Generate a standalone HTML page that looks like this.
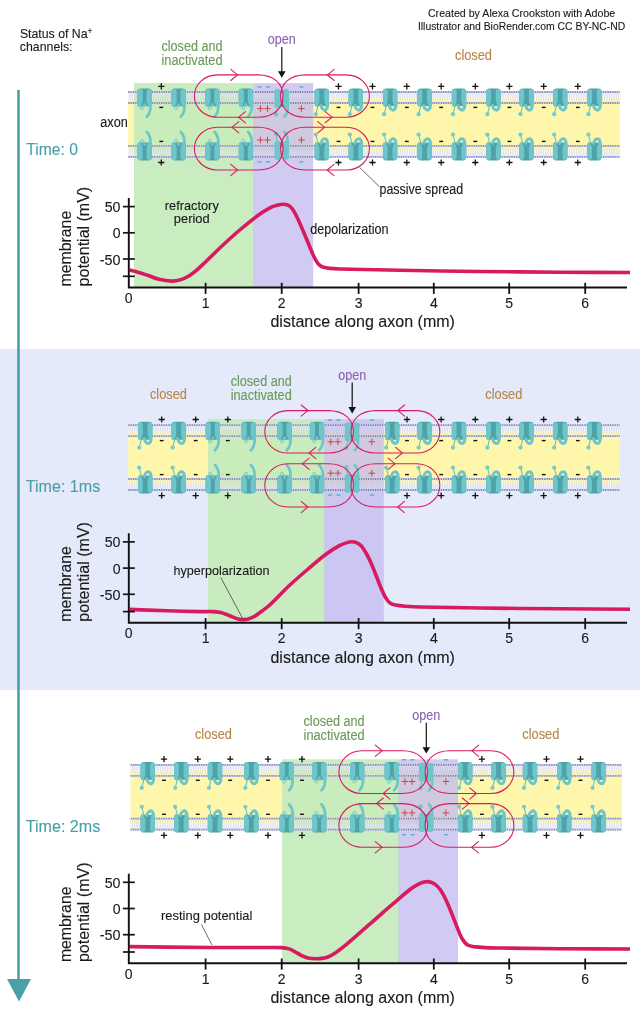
<!DOCTYPE html>
<html lang="en">
<head>
<meta charset="utf-8">
<title>Action potential propagation along an axon</title>
<style>
html,body{margin:0;padding:0;background:#fff;}
body{width:640px;height:1024px;overflow:hidden;}
svg{display:block;font-family:"Liberation Sans", sans-serif;}
text{stroke-width:0.12px;stroke-linejoin:round;}
</style>
</head>
<body>
<svg width="640" height="1024" viewBox="0 0 640 1024">
<defs>
<g id="ci"><rect x="-7.2" y="-36.0" width="14.4" height="17.6" rx="3.4" fill="#4ea3a9"/><rect x="-7.2" y="-35.5" width="5.3" height="18" rx="2.5" fill="#6ec6ca"/><rect x="1.9" y="-35.5" width="5.3" height="18" rx="2.5" fill="#6ec6ca"/><path d="M-2,-22.5 L2,-22.5 L3.6,-19.0 L2.2,-18.3 L-2.2,-18.3 L-3.6,-19.0 Z" fill="#4ea3a9"/><path d="M5.9,-20 C6.3,-14.5 5,-10.5 2.2,-7.6" fill="none" stroke="#6ec6ca" stroke-width="2.7" stroke-linecap="round"/><circle cx="0" cy="-19.6" r="1.8" fill="#6ec6ca" stroke="#58b0b5" stroke-width="0.4"/><circle cx="-2.7" cy="-16.4" r="1.5" fill="none" stroke="#6ec6ca" stroke-width="0.9"/></g>
<g id="cc"><rect x="-7.2" y="-36.0" width="14.4" height="17.6" rx="3.4" fill="#4ea3a9"/><rect x="-7.2" y="-35.5" width="4.8" height="18" rx="2.4" fill="#6ec6ca"/><rect x="2.4" y="-35.5" width="4.8" height="18" rx="2.4" fill="#6ec6ca"/><path d="M-2.6,-22.5 L2.6,-22.5 L3.9,-19.0 L2.2,-18.3 L-2.2,-18.3 L-3.9,-19.0 Z" fill="#4ea3a9"/><path d="M5.7,-21 C6.4,-14.9 3.6,-13.3 1.3,-15.0 C0.1,-15.9 -0.6,-17.4 -0.9,-19.0" fill="none" stroke="#6ec6ca" stroke-width="3.0" stroke-linecap="round"/><path d="M-3.9,-18.2 L-5.9,-10.6" fill="none" stroke="#58b0b5" stroke-width="0.9"/><circle cx="-6.0" cy="-10.2" r="2.1" fill="#74cbd0"/></g>
<g id="co"><rect x="-1.6" y="-23" width="3.2" height="5.5" fill="#4ea3a9"/><rect x="-7.4" y="-35.3" width="6.5" height="18.8" rx="2.7" fill="#6ec6ca"/><rect x="0.8" y="-35.3" width="6.4" height="18.8" rx="2.7" fill="#6ec6ca"/><path d="M5.8,-19 C6.2,-13.5 5.2,-10 2.6,-7.6" fill="none" stroke="#6ec6ca" stroke-width="2.7" stroke-linecap="round"/><path d="M-4.6,-17 L-5.7,-10" fill="none" stroke="#58b0b5" stroke-width="0.8"/><circle cx="-5.7" cy="-9.7" r="2.1" fill="#6ec6ca"/></g>
</defs>
<rect x="0" y="0" width="640" height="1024" fill="#ffffff"/>
<rect x="0" y="349" width="640" height="341" fill="#e5eafa"/>
<rect x="17.2" y="90" width="2.6" height="892" fill="#4a9fa8"/>
<path d="M7,979 L31,979 L19,1001.5 Z" fill="#4a9fa8"/>
<rect x="128.2" y="97.5" width="491.6" height="53.8" fill="#fdf6ab"/>
<rect x="134" y="83.1" width="120.2" height="204.4" fill="#c6ebbc" fill-opacity="0.94"/>
<rect x="253.4" y="83.1" width="59.8" height="204.4" fill="#c3bbef" fill-opacity="0.76"/>
<rect x="128.2" y="92.0" width="5.8" height="5.5" fill="#d3d9f1" fill-opacity="0.75"/>
<rect x="128.2" y="97.5" width="5.8" height="5.5" fill="#cfcfc4" fill-opacity="0.34"/>
<path d="M128.2,97.5 H134" stroke="#ffffff" stroke-opacity="0.62" stroke-width="11.0" stroke-dasharray="1.15 1.2" stroke-dashoffset="0.00" fill="none"/>
<path d="M128.2,92.0 H134" stroke="#cfd3e6" stroke-width="1.8" fill="none"/>
<path d="M128.2,92.0 H134" stroke="#878db8" stroke-width="1.8" stroke-dasharray="1.25 1.1" stroke-dashoffset="0.00" fill="none"/>
<path d="M128.2,103.0 H134" stroke="#cfd3e6" stroke-width="1.8" fill="none"/>
<path d="M128.2,103.0 H134" stroke="#878db8" stroke-width="1.8" stroke-dasharray="1.25 1.1" stroke-dashoffset="0.00" fill="none"/>
<rect x="134" y="92.0" width="119.4" height="5.5" fill="#d3d9f1" fill-opacity="0.5"/>
<rect x="134" y="97.5" width="119.4" height="5.5" fill="#cfcfc4" fill-opacity="0.3"/>
<path d="M134,97.5 H253.4" stroke="#ffffff" stroke-opacity="0.25" stroke-width="11.0" stroke-dasharray="1.15 1.2" stroke-dashoffset="1.10" fill="none"/>
<path d="M134,92.0 H253.4" stroke="#cfd3e6" stroke-width="1.8" fill="none"/>
<path d="M134,92.0 H253.4" stroke="#878db8" stroke-width="1.8" stroke-dasharray="1.25 1.1" stroke-dashoffset="1.10" fill="none"/>
<path d="M134,103.0 H253.4" stroke="#cfd3e6" stroke-width="1.8" fill="none"/>
<path d="M134,103.0 H253.4" stroke="#878db8" stroke-width="1.8" stroke-dasharray="1.25 1.1" stroke-dashoffset="1.10" fill="none"/>
<rect x="253.4" y="92.0" width="59.8" height="5.5" fill="#d3d9f1" fill-opacity="0.25"/>
<rect x="253.4" y="97.5" width="59.8" height="5.5" fill="#cfcfc4" fill-opacity="0.2"/>
<path d="M253.4,97.5 H313.2" stroke="#ffffff" stroke-opacity="0.14" stroke-width="11.0" stroke-dasharray="1.15 1.2" stroke-dashoffset="0.65" fill="none"/>
<path d="M253.4,92.0 H313.2" stroke="#cfd3e6" stroke-width="1.8" fill="none"/>
<path d="M253.4,92.0 H313.2" stroke="#7c7fa6" stroke-width="1.8" stroke-dasharray="1.25 1.1" stroke-dashoffset="0.65" fill="none"/>
<path d="M253.4,103.0 H313.2" stroke="#cfd3e6" stroke-width="1.8" fill="none"/>
<path d="M253.4,103.0 H313.2" stroke="#7c7fa6" stroke-width="1.8" stroke-dasharray="1.25 1.1" stroke-dashoffset="0.65" fill="none"/>
<rect x="313.2" y="92.0" width="306.6" height="5.5" fill="#d3d9f1" fill-opacity="0.75"/>
<rect x="313.2" y="97.5" width="306.6" height="5.5" fill="#cfcfc4" fill-opacity="0.34"/>
<path d="M313.2,97.5 H619.8" stroke="#ffffff" stroke-opacity="0.62" stroke-width="11.0" stroke-dasharray="1.15 1.2" stroke-dashoffset="1.70" fill="none"/>
<path d="M313.2,92.0 H619.8" stroke="#cfd3e6" stroke-width="1.8" fill="none"/>
<path d="M313.2,92.0 H619.8" stroke="#878db8" stroke-width="1.8" stroke-dasharray="1.25 1.1" stroke-dashoffset="1.70" fill="none"/>
<path d="M313.2,103.0 H619.8" stroke="#cfd3e6" stroke-width="1.8" fill="none"/>
<path d="M313.2,103.0 H619.8" stroke="#878db8" stroke-width="1.8" stroke-dasharray="1.25 1.1" stroke-dashoffset="1.70" fill="none"/>
<rect x="128.2" y="151.3" width="5.8" height="5.5" fill="#d3d9f1" fill-opacity="0.75"/>
<rect x="128.2" y="145.8" width="5.8" height="5.5" fill="#cfcfc4" fill-opacity="0.34"/>
<path d="M128.2,151.3 H134" stroke="#ffffff" stroke-opacity="0.62" stroke-width="11.0" stroke-dasharray="1.15 1.2" stroke-dashoffset="0.00" fill="none"/>
<path d="M128.2,156.8 H134" stroke="#cfd3e6" stroke-width="1.8" fill="none"/>
<path d="M128.2,156.8 H134" stroke="#878db8" stroke-width="1.8" stroke-dasharray="1.25 1.1" stroke-dashoffset="0.00" fill="none"/>
<path d="M128.2,145.8 H134" stroke="#cfd3e6" stroke-width="1.8" fill="none"/>
<path d="M128.2,145.8 H134" stroke="#878db8" stroke-width="1.8" stroke-dasharray="1.25 1.1" stroke-dashoffset="0.00" fill="none"/>
<rect x="134" y="151.3" width="119.4" height="5.5" fill="#d3d9f1" fill-opacity="0.5"/>
<rect x="134" y="145.8" width="119.4" height="5.5" fill="#cfcfc4" fill-opacity="0.3"/>
<path d="M134,151.3 H253.4" stroke="#ffffff" stroke-opacity="0.25" stroke-width="11.0" stroke-dasharray="1.15 1.2" stroke-dashoffset="1.10" fill="none"/>
<path d="M134,156.8 H253.4" stroke="#cfd3e6" stroke-width="1.8" fill="none"/>
<path d="M134,156.8 H253.4" stroke="#878db8" stroke-width="1.8" stroke-dasharray="1.25 1.1" stroke-dashoffset="1.10" fill="none"/>
<path d="M134,145.8 H253.4" stroke="#cfd3e6" stroke-width="1.8" fill="none"/>
<path d="M134,145.8 H253.4" stroke="#878db8" stroke-width="1.8" stroke-dasharray="1.25 1.1" stroke-dashoffset="1.10" fill="none"/>
<rect x="253.4" y="151.3" width="59.8" height="5.5" fill="#d3d9f1" fill-opacity="0.25"/>
<rect x="253.4" y="145.8" width="59.8" height="5.5" fill="#cfcfc4" fill-opacity="0.2"/>
<path d="M253.4,151.3 H313.2" stroke="#ffffff" stroke-opacity="0.14" stroke-width="11.0" stroke-dasharray="1.15 1.2" stroke-dashoffset="0.65" fill="none"/>
<path d="M253.4,156.8 H313.2" stroke="#cfd3e6" stroke-width="1.8" fill="none"/>
<path d="M253.4,156.8 H313.2" stroke="#7c7fa6" stroke-width="1.8" stroke-dasharray="1.25 1.1" stroke-dashoffset="0.65" fill="none"/>
<path d="M253.4,145.8 H313.2" stroke="#cfd3e6" stroke-width="1.8" fill="none"/>
<path d="M253.4,145.8 H313.2" stroke="#7c7fa6" stroke-width="1.8" stroke-dasharray="1.25 1.1" stroke-dashoffset="0.65" fill="none"/>
<rect x="313.2" y="151.3" width="306.6" height="5.5" fill="#d3d9f1" fill-opacity="0.75"/>
<rect x="313.2" y="145.8" width="306.6" height="5.5" fill="#cfcfc4" fill-opacity="0.34"/>
<path d="M313.2,151.3 H619.8" stroke="#ffffff" stroke-opacity="0.62" stroke-width="11.0" stroke-dasharray="1.15 1.2" stroke-dashoffset="1.70" fill="none"/>
<path d="M313.2,156.8 H619.8" stroke="#cfd3e6" stroke-width="1.8" fill="none"/>
<path d="M313.2,156.8 H619.8" stroke="#878db8" stroke-width="1.8" stroke-dasharray="1.25 1.1" stroke-dashoffset="1.70" fill="none"/>
<path d="M313.2,145.8 H619.8" stroke="#cfd3e6" stroke-width="1.8" fill="none"/>
<path d="M313.2,145.8 H619.8" stroke="#878db8" stroke-width="1.8" stroke-dasharray="1.25 1.1" stroke-dashoffset="1.70" fill="none"/>
<use href="#cc" x="321.8" y="124.4"/>
<use href="#cc" transform="translate(321.8,124.4) scale(1,-1)"/>
<use href="#cc" x="355.8" y="124.4"/>
<use href="#cc" transform="translate(355.8,124.4) scale(1,-1)"/>
<use href="#cc" x="390.1" y="124.4"/>
<use href="#cc" transform="translate(390.1,124.4) scale(1,-1)"/>
<use href="#cc" x="424.6" y="124.4"/>
<use href="#cc" transform="translate(424.6,124.4) scale(1,-1)"/>
<use href="#cc" x="459" y="124.4"/>
<use href="#cc" transform="translate(459,124.4) scale(1,-1)"/>
<use href="#cc" x="493.4" y="124.4"/>
<use href="#cc" transform="translate(493.4,124.4) scale(1,-1)"/>
<use href="#cc" x="526.5" y="124.4"/>
<use href="#cc" transform="translate(526.5,124.4) scale(1,-1)"/>
<use href="#cc" x="560.2" y="124.4"/>
<use href="#cc" transform="translate(560.2,124.4) scale(1,-1)"/>
<use href="#cc" x="594.4" y="124.4"/>
<use href="#cc" transform="translate(594.4,124.4) scale(1,-1)"/>
<use href="#ci" x="144.6" y="124.4"/>
<use href="#ci" transform="translate(144.6,124.4) scale(1,-1)"/>
<use href="#ci" x="178.6" y="124.4"/>
<use href="#ci" transform="translate(178.6,124.4) scale(1,-1)"/>
<use href="#ci" x="212.4" y="124.4"/>
<use href="#ci" transform="translate(212.4,124.4) scale(1,-1)"/>
<use href="#ci" x="245.9" y="124.4"/>
<use href="#ci" transform="translate(245.9,124.4) scale(1,-1)"/>
<use href="#co" x="281.8" y="124.4"/>
<use href="#co" transform="translate(281.8,124.4) scale(1,-1)"/>
<path d="M158.2,86.3 H164.4 M161.3,83.2 V89.4" stroke="#111" stroke-width="1.3" fill="none"/>
<path d="M159.4,107.4 H163.2" stroke="#111" stroke-width="1.4" fill="none"/>
<path d="M159.4,141.4 H163.2" stroke="#111" stroke-width="1.4" fill="none"/>
<path d="M158.2,162.5 H164.4 M161.3,159.4 V165.6" stroke="#111" stroke-width="1.3" fill="none"/>
<path d="M335.4,86.3 H341.6 M338.5,83.2 V89.4" stroke="#111" stroke-width="1.3" fill="none"/>
<path d="M336.6,107.4 H340.4" stroke="#111" stroke-width="1.4" fill="none"/>
<path d="M336.6,141.4 H340.4" stroke="#111" stroke-width="1.4" fill="none"/>
<path d="M335.4,162.5 H341.6 M338.5,159.4 V165.6" stroke="#111" stroke-width="1.3" fill="none"/>
<path d="M369.4,86.3 H375.6 M372.5,83.2 V89.4" stroke="#111" stroke-width="1.3" fill="none"/>
<path d="M370.6,107.4 H374.4" stroke="#111" stroke-width="1.4" fill="none"/>
<path d="M370.6,141.4 H374.4" stroke="#111" stroke-width="1.4" fill="none"/>
<path d="M369.4,162.5 H375.6 M372.5,159.4 V165.6" stroke="#111" stroke-width="1.3" fill="none"/>
<path d="M403.7,86.3 H409.9 M406.8,83.2 V89.4" stroke="#111" stroke-width="1.3" fill="none"/>
<path d="M404.9,107.4 H408.7" stroke="#111" stroke-width="1.4" fill="none"/>
<path d="M404.9,141.4 H408.7" stroke="#111" stroke-width="1.4" fill="none"/>
<path d="M403.7,162.5 H409.9 M406.8,159.4 V165.6" stroke="#111" stroke-width="1.3" fill="none"/>
<path d="M438.1,86.3 H444.3 M441.2,83.2 V89.4" stroke="#111" stroke-width="1.3" fill="none"/>
<path d="M439.3,107.4 H443.1" stroke="#111" stroke-width="1.4" fill="none"/>
<path d="M439.3,141.4 H443.1" stroke="#111" stroke-width="1.4" fill="none"/>
<path d="M438.1,162.5 H444.3 M441.2,159.4 V165.6" stroke="#111" stroke-width="1.3" fill="none"/>
<path d="M472.2,86.3 H478.4 M475.3,83.2 V89.4" stroke="#111" stroke-width="1.3" fill="none"/>
<path d="M473.4,107.4 H477.2" stroke="#111" stroke-width="1.4" fill="none"/>
<path d="M473.4,141.4 H477.2" stroke="#111" stroke-width="1.4" fill="none"/>
<path d="M472.2,162.5 H478.4 M475.3,159.4 V165.6" stroke="#111" stroke-width="1.3" fill="none"/>
<path d="M506.3,86.3 H512.5 M509.4,83.2 V89.4" stroke="#111" stroke-width="1.3" fill="none"/>
<path d="M507.5,107.4 H511.3" stroke="#111" stroke-width="1.4" fill="none"/>
<path d="M507.5,141.4 H511.3" stroke="#111" stroke-width="1.4" fill="none"/>
<path d="M506.3,162.5 H512.5 M509.4,159.4 V165.6" stroke="#111" stroke-width="1.3" fill="none"/>
<path d="M540.6,86.3 H546.8 M543.7,83.2 V89.4" stroke="#111" stroke-width="1.3" fill="none"/>
<path d="M541.8,107.4 H545.6" stroke="#111" stroke-width="1.4" fill="none"/>
<path d="M541.8,141.4 H545.6" stroke="#111" stroke-width="1.4" fill="none"/>
<path d="M540.6,162.5 H546.8 M543.7,159.4 V165.6" stroke="#111" stroke-width="1.3" fill="none"/>
<path d="M574.7,86.3 H580.9 M577.8,83.2 V89.4" stroke="#111" stroke-width="1.3" fill="none"/>
<path d="M575.9,107.4 H579.7" stroke="#111" stroke-width="1.4" fill="none"/>
<path d="M575.9,141.4 H579.7" stroke="#111" stroke-width="1.4" fill="none"/>
<path d="M574.7,162.5 H580.9 M577.8,159.4 V165.6" stroke="#111" stroke-width="1.3" fill="none"/>
<path d="M257.6,86.9 H261.6" stroke="#5cb3bd" stroke-width="1.5" fill="none"/>
<path d="M257.6,161.8 H261.6" stroke="#5cb3bd" stroke-width="1.5" fill="none"/>
<path d="M266.0,86.9 H270.0" stroke="#5cb3bd" stroke-width="1.5" fill="none"/>
<path d="M266.0,161.8 H270.0" stroke="#5cb3bd" stroke-width="1.5" fill="none"/>
<path d="M299.4,86.9 H303.4" stroke="#5cb3bd" stroke-width="1.5" fill="none"/>
<path d="M299.4,161.8 H303.4" stroke="#5cb3bd" stroke-width="1.5" fill="none"/>
<path d="M257.1,108.6 H263.7 M260.4,105.3 V111.9" stroke="#c9473f" stroke-width="1.0" fill="none"/>
<path d="M257.1,140.0 H263.7 M260.4,136.7 V143.3" stroke="#c9473f" stroke-width="1.0" fill="none"/>
<path d="M264.2,108.6 H270.8 M267.5,105.3 V111.9" stroke="#c9473f" stroke-width="1.0" fill="none"/>
<path d="M264.2,140.0 H270.8 M267.5,136.7 V143.3" stroke="#c9473f" stroke-width="1.0" fill="none"/>
<path d="M298.1,108.6 H304.7 M301.4,105.3 V111.9" stroke="#c9473f" stroke-width="1.0" fill="none"/>
<path d="M298.1,140.0 H304.7 M301.4,136.7 V143.3" stroke="#c9473f" stroke-width="1.0" fill="none"/>
<path d="M258.0,74.9 C274.0,74.9 283.0,83.8 283.0,96.1 C283.0,108.3 274.0,117.2 258.0,117.2 L217.4,117.2 C204.4,117.2 194.4,107.7 194.4,96.1 C194.4,84.4 204.4,74.9 217.4,74.9 Z" fill="none" stroke="#d81b60" stroke-width="1.1"/>
<path d="M305.6,74.9 C289.6,74.9 280.6,83.8 280.6,96.1 C280.6,108.3 289.6,117.2 305.6,117.2 L346.4,117.2 C359.4,117.2 369.4,107.7 369.4,96.1 C369.4,84.4 359.4,74.9 346.4,74.9 Z" fill="none" stroke="#d81b60" stroke-width="1.1"/>
<path d="M258.0,127.2 C274.0,127.2 283.0,136.2 283.0,148.6 C283.0,161.0 274.0,170.0 258.0,170.0 L217.4,170.0 C204.4,170.0 194.4,160.4 194.4,148.6 C194.4,136.8 204.4,127.2 217.4,127.2 Z" fill="none" stroke="#d81b60" stroke-width="1.1"/>
<path d="M305.6,127.2 C289.6,127.2 280.6,136.2 280.6,148.6 C280.6,161.0 289.6,170.0 305.6,170.0 L346.4,170.0 C359.4,170.0 369.4,160.4 369.4,148.6 C369.4,136.8 359.4,127.2 346.4,127.2 Z" fill="none" stroke="#d81b60" stroke-width="1.1"/>
<path d="M230.8,69.3 L237.6,74.9 L230.8,80.5" fill="none" stroke="#d81b60" stroke-width="1.1" stroke-linecap="round" stroke-linejoin="miter"/>
<path d="M245.4,111.6 L238.6,117.2 L245.4,122.8" fill="none" stroke="#d81b60" stroke-width="1.1" stroke-linecap="round" stroke-linejoin="miter"/>
<path d="M334.2,69.3 L327.4,74.9 L334.2,80.5" fill="none" stroke="#d81b60" stroke-width="1.1" stroke-linecap="round" stroke-linejoin="miter"/>
<path d="M325.2,111.6 L332.0,117.2 L325.2,122.8" fill="none" stroke="#d81b60" stroke-width="1.1" stroke-linecap="round" stroke-linejoin="miter"/>
<path d="M238.8,121.6 L232.0,127.2 L238.8,132.8" fill="none" stroke="#d81b60" stroke-width="1.1" stroke-linecap="round" stroke-linejoin="miter"/>
<path d="M230.8,164.4 L237.6,170.0 L230.8,175.6" fill="none" stroke="#d81b60" stroke-width="1.1" stroke-linecap="round" stroke-linejoin="miter"/>
<path d="M317.8,121.6 L324.6,127.2 L317.8,132.8" fill="none" stroke="#d81b60" stroke-width="1.1" stroke-linecap="round" stroke-linejoin="miter"/>
<path d="M334.0,164.4 L327.2,170.0 L334.0,175.6" fill="none" stroke="#d81b60" stroke-width="1.1" stroke-linecap="round" stroke-linejoin="miter"/>
<path d="M281.8,46.9 V74.9" stroke="#111" stroke-width="1.2" fill="none"/>
<path d="M278.0,71.3 H285.6 L281.8,77.7 Z" fill="#111"/>
<text x="281.8" y="43.900000000000006" font-size="13.8" text-anchor="middle" fill="#8b62b5" stroke="#8b62b5" textLength="27.9" lengthAdjust="spacingAndGlyphs">open</text>
<path d="M129.6,270.1 C132.4,270.8 135.2,271.4 138.0,272.2 C141.2,273.1 144.3,274.2 147.5,275.3 C151.3,276.6 155.1,278.4 159.0,279.3 C163.1,280.3 167.4,281.0 171.6,281.1 C174.7,281.1 178.0,280.5 181.0,279.6 C183.7,278.8 186.3,277.5 188.8,276.0 C191.7,274.2 194.4,272.0 197.0,269.8 C200.1,267.2 203.0,264.3 206.0,261.5 C211.7,256.0 217.2,250.4 223.0,245.0 C228.7,239.7 234.4,234.5 240.3,229.5 C245.9,224.8 251.6,220.1 257.5,215.8 C261.9,212.6 266.5,209.7 271.3,207.2 C273.4,206.1 275.7,205.5 278.0,204.9 C279.7,204.5 281.5,204.1 283.3,204.2 C284.9,204.2 286.6,204.5 288.0,205.2 C289.5,205.9 290.8,207.1 291.9,208.4 C293.2,209.9 294.2,211.8 295.2,213.6 C296.5,216.0 297.6,218.5 298.8,221.0 C300.6,225.0 302.3,229.0 304.0,233.0 C305.7,237.0 307.3,241.0 309.0,245.0 C310.3,248.2 311.6,251.4 313.0,254.6 C313.9,256.6 314.9,258.6 316.0,260.5 C316.9,261.9 317.8,263.5 319.0,264.6 C320.1,265.6 321.4,266.5 322.8,267.0 C325.1,267.8 327.6,268.1 330.0,268.4 C333.3,268.8 336.7,268.9 340.0,269.0 C360.0,269.5 380.0,269.9 400.0,270.3 C426.7,270.8 453.3,271.2 480.0,271.5 C506.7,271.8 533.3,272.0 560.0,272.2 C583.3,272.4 606.7,272.4 630.0,272.5" fill="none" stroke="#d81b60" stroke-width="3.6" stroke-linecap="butt" stroke-linejoin="round"/>
<path d="M128.8,198.0 V287.5 H627" fill="none" stroke="#111" stroke-width="1.9" stroke-linejoin="miter"/>
<path d="M122.9,206.6 H134.8" stroke="#111" stroke-width="1.7"/>
<path d="M122.9,232.8 H134.8" stroke="#111" stroke-width="1.7"/>
<path d="M122.9,259.0 H134.8" stroke="#111" stroke-width="1.7"/>
<path d="M122.9,276.3 H134.8" stroke="#111" stroke-width="1.7"/>
<path d="M205.6,282.8 V293.9" stroke="#111" stroke-width="1.8"/>
<text x="205.6" y="308.0" font-size="15.3" text-anchor="middle" fill="#1a1a1a" stroke="#1a1a1a" stroke-width="0.12" textLength="7.82" lengthAdjust="spacingAndGlyphs">1</text>
<path d="M281.7,282.8 V293.9" stroke="#111" stroke-width="1.8"/>
<text x="281.7" y="308.0" font-size="15.3" text-anchor="middle" fill="#1a1a1a" stroke="#1a1a1a" stroke-width="0.12" textLength="7.82" lengthAdjust="spacingAndGlyphs">2</text>
<path d="M358.6,282.8 V293.9" stroke="#111" stroke-width="1.8"/>
<text x="358.6" y="308.0" font-size="15.3" text-anchor="middle" fill="#1a1a1a" stroke="#1a1a1a" stroke-width="0.12" textLength="7.82" lengthAdjust="spacingAndGlyphs">3</text>
<path d="M433.8,282.8 V293.9" stroke="#111" stroke-width="1.8"/>
<text x="433.8" y="308.0" font-size="15.3" text-anchor="middle" fill="#1a1a1a" stroke="#1a1a1a" stroke-width="0.12" textLength="7.82" lengthAdjust="spacingAndGlyphs">4</text>
<path d="M509.2,282.8 V293.9" stroke="#111" stroke-width="1.8"/>
<text x="509.2" y="308.0" font-size="15.3" text-anchor="middle" fill="#1a1a1a" stroke="#1a1a1a" stroke-width="0.12" textLength="7.82" lengthAdjust="spacingAndGlyphs">5</text>
<path d="M585.2,282.8 V293.9" stroke="#111" stroke-width="1.8"/>
<text x="585.2" y="308.0" font-size="15.3" text-anchor="middle" fill="#1a1a1a" stroke="#1a1a1a" stroke-width="0.12" textLength="7.82" lengthAdjust="spacingAndGlyphs">6</text>
<text x="128.6" y="303.1" font-size="15.3" text-anchor="middle" fill="#1a1a1a" stroke="#1a1a1a" stroke-width="0.12" textLength="7.82" lengthAdjust="spacingAndGlyphs">0</text>
<text x="120.51" y="212.1" font-size="15.3" text-anchor="end" fill="#1a1a1a" stroke="#1a1a1a" stroke-width="0.12" textLength="15.82" lengthAdjust="spacingAndGlyphs">50</text>
<text x="120.51" y="238.3" font-size="15.3" text-anchor="end" fill="#1a1a1a" stroke="#1a1a1a" stroke-width="0.12" textLength="7.82" lengthAdjust="spacingAndGlyphs">0</text>
<text x="120.51" y="264.5" font-size="15.3" text-anchor="end" fill="#1a1a1a" stroke="#1a1a1a" stroke-width="0.12" textLength="20.82" lengthAdjust="spacingAndGlyphs">-50</text>
<text x="270.43" y="327.3" font-size="16.8" text-anchor="start" fill="#1a1a1a" stroke="#1a1a1a" stroke-width="0.12" textLength="184.54" lengthAdjust="spacingAndGlyphs">distance along axon (mm)</text>
<text transform="translate(70.5,286.4) rotate(-90)" font-size="16.8" fill="#1a1a1a" stroke="#1a1a1a" stroke-width="0.12" textLength="75.6" lengthAdjust="spacingAndGlyphs">membrane</text>
<text transform="translate(89.1,286.4) rotate(-90)" font-size="16.8" fill="#1a1a1a" stroke="#1a1a1a" stroke-width="0.12" textLength="99.6" lengthAdjust="spacingAndGlyphs">potential (mV)</text>
<rect x="128.2" y="430.7" width="491.6" height="53.8" fill="#fdf6ab"/>
<rect x="208" y="419.1" width="117.0" height="203.7" fill="#c6ebbc" fill-opacity="0.94"/>
<rect x="324.2" y="419.1" width="59.6" height="203.7" fill="#c3bbef" fill-opacity="0.76"/>
<rect x="128.2" y="425.2" width="79.8" height="5.5" fill="#d3d9f1" fill-opacity="0.75"/>
<rect x="128.2" y="430.7" width="79.8" height="5.5" fill="#cfcfc4" fill-opacity="0.34"/>
<path d="M128.2,430.7 H208" stroke="#ffffff" stroke-opacity="0.62" stroke-width="11.0" stroke-dasharray="1.15 1.2" stroke-dashoffset="0.00" fill="none"/>
<path d="M128.2,425.2 H208" stroke="#cfd3e6" stroke-width="1.8" fill="none"/>
<path d="M128.2,425.2 H208" stroke="#878db8" stroke-width="1.8" stroke-dasharray="1.25 1.1" stroke-dashoffset="0.00" fill="none"/>
<path d="M128.2,436.2 H208" stroke="#cfd3e6" stroke-width="1.8" fill="none"/>
<path d="M128.2,436.2 H208" stroke="#878db8" stroke-width="1.8" stroke-dasharray="1.25 1.1" stroke-dashoffset="0.00" fill="none"/>
<rect x="208" y="425.2" width="116.2" height="5.5" fill="#d3d9f1" fill-opacity="0.5"/>
<rect x="208" y="430.7" width="116.2" height="5.5" fill="#cfcfc4" fill-opacity="0.3"/>
<path d="M208,430.7 H324.2" stroke="#ffffff" stroke-opacity="0.25" stroke-width="11.0" stroke-dasharray="1.15 1.2" stroke-dashoffset="2.25" fill="none"/>
<path d="M208,425.2 H324.2" stroke="#cfd3e6" stroke-width="1.8" fill="none"/>
<path d="M208,425.2 H324.2" stroke="#878db8" stroke-width="1.8" stroke-dasharray="1.25 1.1" stroke-dashoffset="2.25" fill="none"/>
<path d="M208,436.2 H324.2" stroke="#cfd3e6" stroke-width="1.8" fill="none"/>
<path d="M208,436.2 H324.2" stroke="#878db8" stroke-width="1.8" stroke-dasharray="1.25 1.1" stroke-dashoffset="2.25" fill="none"/>
<rect x="324.2" y="425.2" width="59.6" height="5.5" fill="#d3d9f1" fill-opacity="0.25"/>
<rect x="324.2" y="430.7" width="59.6" height="5.5" fill="#cfcfc4" fill-opacity="0.2"/>
<path d="M324.2,430.7 H383.8" stroke="#ffffff" stroke-opacity="0.14" stroke-width="11.0" stroke-dasharray="1.15 1.2" stroke-dashoffset="0.95" fill="none"/>
<path d="M324.2,425.2 H383.8" stroke="#cfd3e6" stroke-width="1.8" fill="none"/>
<path d="M324.2,425.2 H383.8" stroke="#7c7fa6" stroke-width="1.8" stroke-dasharray="1.25 1.1" stroke-dashoffset="0.95" fill="none"/>
<path d="M324.2,436.2 H383.8" stroke="#cfd3e6" stroke-width="1.8" fill="none"/>
<path d="M324.2,436.2 H383.8" stroke="#7c7fa6" stroke-width="1.8" stroke-dasharray="1.25 1.1" stroke-dashoffset="0.95" fill="none"/>
<rect x="383.8" y="425.2" width="236.0" height="5.5" fill="#d3d9f1" fill-opacity="0.75"/>
<rect x="383.8" y="430.7" width="236.0" height="5.5" fill="#cfcfc4" fill-opacity="0.34"/>
<path d="M383.8,430.7 H619.8" stroke="#ffffff" stroke-opacity="0.62" stroke-width="11.0" stroke-dasharray="1.15 1.2" stroke-dashoffset="1.80" fill="none"/>
<path d="M383.8,425.2 H619.8" stroke="#cfd3e6" stroke-width="1.8" fill="none"/>
<path d="M383.8,425.2 H619.8" stroke="#878db8" stroke-width="1.8" stroke-dasharray="1.25 1.1" stroke-dashoffset="1.80" fill="none"/>
<path d="M383.8,436.2 H619.8" stroke="#cfd3e6" stroke-width="1.8" fill="none"/>
<path d="M383.8,436.2 H619.8" stroke="#878db8" stroke-width="1.8" stroke-dasharray="1.25 1.1" stroke-dashoffset="1.80" fill="none"/>
<rect x="128.2" y="484.5" width="79.8" height="5.5" fill="#d3d9f1" fill-opacity="0.75"/>
<rect x="128.2" y="479.0" width="79.8" height="5.5" fill="#cfcfc4" fill-opacity="0.34"/>
<path d="M128.2,484.5 H208" stroke="#ffffff" stroke-opacity="0.62" stroke-width="11.0" stroke-dasharray="1.15 1.2" stroke-dashoffset="0.00" fill="none"/>
<path d="M128.2,490.0 H208" stroke="#cfd3e6" stroke-width="1.8" fill="none"/>
<path d="M128.2,490.0 H208" stroke="#878db8" stroke-width="1.8" stroke-dasharray="1.25 1.1" stroke-dashoffset="0.00" fill="none"/>
<path d="M128.2,479.0 H208" stroke="#cfd3e6" stroke-width="1.8" fill="none"/>
<path d="M128.2,479.0 H208" stroke="#878db8" stroke-width="1.8" stroke-dasharray="1.25 1.1" stroke-dashoffset="0.00" fill="none"/>
<rect x="208" y="484.5" width="116.2" height="5.5" fill="#d3d9f1" fill-opacity="0.5"/>
<rect x="208" y="479.0" width="116.2" height="5.5" fill="#cfcfc4" fill-opacity="0.3"/>
<path d="M208,484.5 H324.2" stroke="#ffffff" stroke-opacity="0.25" stroke-width="11.0" stroke-dasharray="1.15 1.2" stroke-dashoffset="2.25" fill="none"/>
<path d="M208,490.0 H324.2" stroke="#cfd3e6" stroke-width="1.8" fill="none"/>
<path d="M208,490.0 H324.2" stroke="#878db8" stroke-width="1.8" stroke-dasharray="1.25 1.1" stroke-dashoffset="2.25" fill="none"/>
<path d="M208,479.0 H324.2" stroke="#cfd3e6" stroke-width="1.8" fill="none"/>
<path d="M208,479.0 H324.2" stroke="#878db8" stroke-width="1.8" stroke-dasharray="1.25 1.1" stroke-dashoffset="2.25" fill="none"/>
<rect x="324.2" y="484.5" width="59.6" height="5.5" fill="#d3d9f1" fill-opacity="0.25"/>
<rect x="324.2" y="479.0" width="59.6" height="5.5" fill="#cfcfc4" fill-opacity="0.2"/>
<path d="M324.2,484.5 H383.8" stroke="#ffffff" stroke-opacity="0.14" stroke-width="11.0" stroke-dasharray="1.15 1.2" stroke-dashoffset="0.95" fill="none"/>
<path d="M324.2,490.0 H383.8" stroke="#cfd3e6" stroke-width="1.8" fill="none"/>
<path d="M324.2,490.0 H383.8" stroke="#7c7fa6" stroke-width="1.8" stroke-dasharray="1.25 1.1" stroke-dashoffset="0.95" fill="none"/>
<path d="M324.2,479.0 H383.8" stroke="#cfd3e6" stroke-width="1.8" fill="none"/>
<path d="M324.2,479.0 H383.8" stroke="#7c7fa6" stroke-width="1.8" stroke-dasharray="1.25 1.1" stroke-dashoffset="0.95" fill="none"/>
<rect x="383.8" y="484.5" width="236.0" height="5.5" fill="#d3d9f1" fill-opacity="0.75"/>
<rect x="383.8" y="479.0" width="236.0" height="5.5" fill="#cfcfc4" fill-opacity="0.34"/>
<path d="M383.8,484.5 H619.8" stroke="#ffffff" stroke-opacity="0.62" stroke-width="11.0" stroke-dasharray="1.15 1.2" stroke-dashoffset="1.80" fill="none"/>
<path d="M383.8,490.0 H619.8" stroke="#cfd3e6" stroke-width="1.8" fill="none"/>
<path d="M383.8,490.0 H619.8" stroke="#878db8" stroke-width="1.8" stroke-dasharray="1.25 1.1" stroke-dashoffset="1.80" fill="none"/>
<path d="M383.8,479.0 H619.8" stroke="#cfd3e6" stroke-width="1.8" fill="none"/>
<path d="M383.8,479.0 H619.8" stroke="#878db8" stroke-width="1.8" stroke-dasharray="1.25 1.1" stroke-dashoffset="1.80" fill="none"/>
<use href="#cc" x="145.2" y="457.8"/>
<use href="#cc" transform="translate(145.2,457.4) scale(1,-1)"/>
<use href="#cc" x="178.6" y="457.8"/>
<use href="#cc" transform="translate(178.6,457.4) scale(1,-1)"/>
<use href="#cc" x="392.2" y="457.8"/>
<use href="#cc" transform="translate(392.2,457.4) scale(1,-1)"/>
<use href="#cc" x="424.6" y="457.8"/>
<use href="#cc" transform="translate(424.6,457.4) scale(1,-1)"/>
<use href="#cc" x="459" y="457.8"/>
<use href="#cc" transform="translate(459,457.4) scale(1,-1)"/>
<use href="#cc" x="493.4" y="457.8"/>
<use href="#cc" transform="translate(493.4,457.4) scale(1,-1)"/>
<use href="#cc" x="526.5" y="457.8"/>
<use href="#cc" transform="translate(526.5,457.4) scale(1,-1)"/>
<use href="#cc" x="560.2" y="457.8"/>
<use href="#cc" transform="translate(560.2,457.4) scale(1,-1)"/>
<use href="#cc" x="594.4" y="457.8"/>
<use href="#cc" transform="translate(594.4,457.4) scale(1,-1)"/>
<use href="#ci" x="212.8" y="457.8"/>
<use href="#ci" transform="translate(212.8,457.4) scale(1,-1)"/>
<use href="#ci" x="248.7" y="457.8"/>
<use href="#ci" transform="translate(248.7,457.4) scale(1,-1)"/>
<use href="#ci" x="284.6" y="457.8"/>
<use href="#ci" transform="translate(284.6,457.4) scale(1,-1)"/>
<use href="#ci" x="317.0" y="457.8"/>
<use href="#ci" transform="translate(317.0,457.4) scale(1,-1)"/>
<use href="#co" x="352.2" y="457.8"/>
<use href="#co" transform="translate(352.2,457.4) scale(1,-1)"/>
<path d="M158.6,419.5 H164.8 M161.7,416.4 V422.6" stroke="#111" stroke-width="1.3" fill="none"/>
<path d="M159.8,440.6 H163.6" stroke="#111" stroke-width="1.4" fill="none"/>
<path d="M159.8,474.6 H163.6" stroke="#111" stroke-width="1.4" fill="none"/>
<path d="M158.6,495.7 H164.8 M161.7,492.6 V498.8" stroke="#111" stroke-width="1.3" fill="none"/>
<path d="M192.6,419.5 H198.8 M195.7,416.4 V422.6" stroke="#111" stroke-width="1.3" fill="none"/>
<path d="M193.8,440.6 H197.6" stroke="#111" stroke-width="1.4" fill="none"/>
<path d="M193.8,474.6 H197.6" stroke="#111" stroke-width="1.4" fill="none"/>
<path d="M192.6,495.7 H198.8 M195.7,492.6 V498.8" stroke="#111" stroke-width="1.3" fill="none"/>
<path d="M224.7,419.5 H230.9 M227.8,416.4 V422.6" stroke="#111" stroke-width="1.3" fill="none"/>
<path d="M225.9,440.6 H229.7" stroke="#111" stroke-width="1.4" fill="none"/>
<path d="M225.9,474.6 H229.7" stroke="#111" stroke-width="1.4" fill="none"/>
<path d="M224.7,495.7 H230.9 M227.8,492.6 V498.8" stroke="#111" stroke-width="1.3" fill="none"/>
<path d="M403.9,419.5 H410.1 M407.0,416.4 V422.6" stroke="#111" stroke-width="1.3" fill="none"/>
<path d="M405.1,440.6 H408.9" stroke="#111" stroke-width="1.4" fill="none"/>
<path d="M405.1,474.6 H408.9" stroke="#111" stroke-width="1.4" fill="none"/>
<path d="M403.9,495.7 H410.1 M407.0,492.6 V498.8" stroke="#111" stroke-width="1.3" fill="none"/>
<path d="M438.1,419.5 H444.3 M441.2,416.4 V422.6" stroke="#111" stroke-width="1.3" fill="none"/>
<path d="M439.3,440.6 H443.1" stroke="#111" stroke-width="1.4" fill="none"/>
<path d="M439.3,474.6 H443.1" stroke="#111" stroke-width="1.4" fill="none"/>
<path d="M438.1,495.7 H444.3 M441.2,492.6 V498.8" stroke="#111" stroke-width="1.3" fill="none"/>
<path d="M472.2,419.5 H478.4 M475.3,416.4 V422.6" stroke="#111" stroke-width="1.3" fill="none"/>
<path d="M473.4,440.6 H477.2" stroke="#111" stroke-width="1.4" fill="none"/>
<path d="M473.4,474.6 H477.2" stroke="#111" stroke-width="1.4" fill="none"/>
<path d="M472.2,495.7 H478.4 M475.3,492.6 V498.8" stroke="#111" stroke-width="1.3" fill="none"/>
<path d="M506.3,419.5 H512.5 M509.4,416.4 V422.6" stroke="#111" stroke-width="1.3" fill="none"/>
<path d="M507.5,440.6 H511.3" stroke="#111" stroke-width="1.4" fill="none"/>
<path d="M507.5,474.6 H511.3" stroke="#111" stroke-width="1.4" fill="none"/>
<path d="M506.3,495.7 H512.5 M509.4,492.6 V498.8" stroke="#111" stroke-width="1.3" fill="none"/>
<path d="M540.6,419.5 H546.8 M543.7,416.4 V422.6" stroke="#111" stroke-width="1.3" fill="none"/>
<path d="M541.8,440.6 H545.6" stroke="#111" stroke-width="1.4" fill="none"/>
<path d="M541.8,474.6 H545.6" stroke="#111" stroke-width="1.4" fill="none"/>
<path d="M540.6,495.7 H546.8 M543.7,492.6 V498.8" stroke="#111" stroke-width="1.3" fill="none"/>
<path d="M574.7,419.5 H580.9 M577.8,416.4 V422.6" stroke="#111" stroke-width="1.3" fill="none"/>
<path d="M575.9,440.6 H579.7" stroke="#111" stroke-width="1.4" fill="none"/>
<path d="M575.9,474.6 H579.7" stroke="#111" stroke-width="1.4" fill="none"/>
<path d="M574.7,495.7 H580.9 M577.8,492.6 V498.8" stroke="#111" stroke-width="1.3" fill="none"/>
<path d="M328.0,420.1 H332.0" stroke="#5cb3bd" stroke-width="1.5" fill="none"/>
<path d="M328.0,495.0 H332.0" stroke="#5cb3bd" stroke-width="1.5" fill="none"/>
<path d="M336.4,420.1 H340.4" stroke="#5cb3bd" stroke-width="1.5" fill="none"/>
<path d="M336.4,495.0 H340.4" stroke="#5cb3bd" stroke-width="1.5" fill="none"/>
<path d="M369.8,420.1 H373.8" stroke="#5cb3bd" stroke-width="1.5" fill="none"/>
<path d="M369.8,495.0 H373.8" stroke="#5cb3bd" stroke-width="1.5" fill="none"/>
<path d="M327.5,441.8 H334.1 M330.8,438.5 V445.1" stroke="#c9473f" stroke-width="1.0" fill="none"/>
<path d="M327.5,473.2 H334.1 M330.8,469.9 V476.5" stroke="#c9473f" stroke-width="1.0" fill="none"/>
<path d="M334.6,441.8 H341.2 M337.9,438.5 V445.1" stroke="#c9473f" stroke-width="1.0" fill="none"/>
<path d="M334.6,473.2 H341.2 M337.9,469.9 V476.5" stroke="#c9473f" stroke-width="1.0" fill="none"/>
<path d="M368.5,441.8 H375.1 M371.8,438.5 V445.1" stroke="#c9473f" stroke-width="1.0" fill="none"/>
<path d="M368.5,473.2 H375.1 M371.8,469.9 V476.5" stroke="#c9473f" stroke-width="1.0" fill="none"/>
<path d="M328.4,410.6 C344.4,410.6 353.4,419.5 353.4,431.8 C353.4,444.1 344.4,453.0 328.4,453.0 L287.8,453.0 C274.8,453.0 264.8,443.5 264.8,431.8 C264.8,420.1 274.8,410.6 287.8,410.6 Z" fill="none" stroke="#d81b60" stroke-width="1.1"/>
<path d="M376.0,410.6 C360.0,410.6 351.0,419.5 351.0,431.8 C351.0,444.1 360.0,453.0 376.0,453.0 L416.8,453.0 C429.8,453.0 439.8,443.5 439.8,431.8 C439.8,420.1 429.8,410.6 416.8,410.6 Z" fill="none" stroke="#d81b60" stroke-width="1.1"/>
<path d="M328.4,463.7 C344.4,463.7 353.4,472.8 353.4,485.4 C353.4,497.9 344.4,507.0 328.4,507.0 L287.8,507.0 C274.8,507.0 264.8,497.3 264.8,485.4 C264.8,473.4 274.8,463.7 287.8,463.7 Z" fill="none" stroke="#d81b60" stroke-width="1.1"/>
<path d="M376.0,463.7 C360.0,463.7 351.0,472.8 351.0,485.4 C351.0,497.9 360.0,507.0 376.0,507.0 L416.8,507.0 C429.8,507.0 439.8,497.3 439.8,485.4 C439.8,473.4 429.8,463.7 416.8,463.7 Z" fill="none" stroke="#d81b60" stroke-width="1.1"/>
<path d="M301.2,405.0 L308.0,410.6 L301.2,416.2" fill="none" stroke="#d81b60" stroke-width="1.1" stroke-linecap="round" stroke-linejoin="miter"/>
<path d="M315.8,447.4 L309.0,453.0 L315.8,458.6" fill="none" stroke="#d81b60" stroke-width="1.1" stroke-linecap="round" stroke-linejoin="miter"/>
<path d="M404.6,405.0 L397.8,410.6 L404.6,416.2" fill="none" stroke="#d81b60" stroke-width="1.1" stroke-linecap="round" stroke-linejoin="miter"/>
<path d="M395.6,447.4 L402.4,453.0 L395.6,458.6" fill="none" stroke="#d81b60" stroke-width="1.1" stroke-linecap="round" stroke-linejoin="miter"/>
<path d="M309.2,458.1 L302.4,463.7 L309.2,469.3" fill="none" stroke="#d81b60" stroke-width="1.1" stroke-linecap="round" stroke-linejoin="miter"/>
<path d="M301.2,501.4 L308.0,507.0 L301.2,512.6" fill="none" stroke="#d81b60" stroke-width="1.1" stroke-linecap="round" stroke-linejoin="miter"/>
<path d="M388.2,458.1 L395.0,463.7 L388.2,469.3" fill="none" stroke="#d81b60" stroke-width="1.1" stroke-linecap="round" stroke-linejoin="miter"/>
<path d="M404.4,501.4 L397.6,507.0 L404.4,512.6" fill="none" stroke="#d81b60" stroke-width="1.1" stroke-linecap="round" stroke-linejoin="miter"/>
<path d="M352.2,382.6 V410.6" stroke="#111" stroke-width="1.2" fill="none"/>
<path d="M348.4,407.0 H356.0 L352.2,413.4 Z" fill="#111"/>
<text x="352.2" y="379.6" font-size="13.8" text-anchor="middle" fill="#8b62b5" stroke="#8b62b5" textLength="27.9" lengthAdjust="spacingAndGlyphs">open</text>
<path d="M129.6,609.4 C142.0,609.9 154.5,610.4 166.9,610.8 C177.9,611.1 189.0,611.4 200.0,611.6 C204.3,611.7 208.7,611.4 213.0,611.6 C215.6,611.7 218.2,612.1 220.8,612.6 C222.9,613.1 225.0,613.9 227.0,614.6 C228.9,615.3 230.6,616.2 232.5,616.9 C234.3,617.6 236.1,618.4 238.0,618.9 C239.6,619.3 241.2,619.6 242.8,619.6 C244.5,619.6 246.3,619.3 248.0,618.9 C249.9,618.4 251.9,617.8 253.6,616.9 C256.2,615.5 258.6,613.6 261.0,611.8 C264.1,609.5 267.2,607.3 270.0,604.7 C276.5,598.7 282.4,592.0 288.8,586.0 C294.9,580.3 301.2,574.9 307.5,569.5 C313.7,564.2 319.8,558.8 326.3,554.0 C330.7,550.7 335.5,547.8 340.3,545.2 C342.4,544.0 344.7,543.3 347.0,542.6 C348.6,542.1 350.3,541.8 352.0,541.8 C353.7,541.8 355.5,542.1 357.0,542.8 C358.6,543.5 360.2,544.7 361.4,546.0 C363.2,548.1 364.6,550.6 366.0,553.0 C367.8,556.1 369.3,559.3 370.8,562.5 C372.5,566.3 374.0,570.2 375.5,574.0 C377.1,578.0 378.6,582.0 380.2,586.0 C381.4,588.9 382.6,591.8 384.0,594.6 C384.9,596.5 386.0,598.3 387.2,600.0 C388.1,601.2 389.2,602.4 390.4,603.2 C391.5,603.9 392.9,604.4 394.2,604.7 C397.7,605.4 401.4,605.9 405.0,606.2 C410.0,606.6 415.0,606.9 420.0,607.0 C440.0,607.5 460.0,607.7 480.0,608.0 C506.7,608.3 533.3,608.6 560.0,608.8 C583.3,609.0 606.7,609.1 630.0,609.2" fill="none" stroke="#d81b60" stroke-width="3.6" stroke-linecap="butt" stroke-linejoin="round"/>
<path d="M128.8,533.3 V622.8 H627" fill="none" stroke="#111" stroke-width="1.9" stroke-linejoin="miter"/>
<path d="M122.9,541.9 H134.8" stroke="#111" stroke-width="1.7"/>
<path d="M122.9,568.1 H134.8" stroke="#111" stroke-width="1.7"/>
<path d="M122.9,594.3 H134.8" stroke="#111" stroke-width="1.7"/>
<path d="M122.9,611.6 H134.8" stroke="#111" stroke-width="1.7"/>
<path d="M205.6,618.1 V629.2" stroke="#111" stroke-width="1.8"/>
<text x="205.6" y="643.3" font-size="15.3" text-anchor="middle" fill="#1a1a1a" stroke="#1a1a1a" stroke-width="0.12" textLength="7.82" lengthAdjust="spacingAndGlyphs">1</text>
<path d="M281.7,618.1 V629.2" stroke="#111" stroke-width="1.8"/>
<text x="281.7" y="643.3" font-size="15.3" text-anchor="middle" fill="#1a1a1a" stroke="#1a1a1a" stroke-width="0.12" textLength="7.82" lengthAdjust="spacingAndGlyphs">2</text>
<path d="M358.6,618.1 V629.2" stroke="#111" stroke-width="1.8"/>
<text x="358.6" y="643.3" font-size="15.3" text-anchor="middle" fill="#1a1a1a" stroke="#1a1a1a" stroke-width="0.12" textLength="7.82" lengthAdjust="spacingAndGlyphs">3</text>
<path d="M433.8,618.1 V629.2" stroke="#111" stroke-width="1.8"/>
<text x="433.8" y="643.3" font-size="15.3" text-anchor="middle" fill="#1a1a1a" stroke="#1a1a1a" stroke-width="0.12" textLength="7.82" lengthAdjust="spacingAndGlyphs">4</text>
<path d="M509.2,618.1 V629.2" stroke="#111" stroke-width="1.8"/>
<text x="509.2" y="643.3" font-size="15.3" text-anchor="middle" fill="#1a1a1a" stroke="#1a1a1a" stroke-width="0.12" textLength="7.82" lengthAdjust="spacingAndGlyphs">5</text>
<path d="M585.2,618.1 V629.2" stroke="#111" stroke-width="1.8"/>
<text x="585.2" y="643.3" font-size="15.3" text-anchor="middle" fill="#1a1a1a" stroke="#1a1a1a" stroke-width="0.12" textLength="7.82" lengthAdjust="spacingAndGlyphs">6</text>
<text x="128.6" y="638.4" font-size="15.3" text-anchor="middle" fill="#1a1a1a" stroke="#1a1a1a" stroke-width="0.12" textLength="7.82" lengthAdjust="spacingAndGlyphs">0</text>
<text x="120.51" y="547.4" font-size="15.3" text-anchor="end" fill="#1a1a1a" stroke="#1a1a1a" stroke-width="0.12" textLength="15.82" lengthAdjust="spacingAndGlyphs">50</text>
<text x="120.51" y="573.6" font-size="15.3" text-anchor="end" fill="#1a1a1a" stroke="#1a1a1a" stroke-width="0.12" textLength="7.82" lengthAdjust="spacingAndGlyphs">0</text>
<text x="120.51" y="599.8" font-size="15.3" text-anchor="end" fill="#1a1a1a" stroke="#1a1a1a" stroke-width="0.12" textLength="20.82" lengthAdjust="spacingAndGlyphs">-50</text>
<text x="270.43" y="662.6" font-size="16.8" text-anchor="start" fill="#1a1a1a" stroke="#1a1a1a" stroke-width="0.12" textLength="184.54" lengthAdjust="spacingAndGlyphs">distance along axon (mm)</text>
<text transform="translate(70.5,621.7) rotate(-90)" font-size="16.8" fill="#1a1a1a" stroke="#1a1a1a" stroke-width="0.12" textLength="75.6" lengthAdjust="spacingAndGlyphs">membrane</text>
<text transform="translate(89.1,621.7) rotate(-90)" font-size="16.8" fill="#1a1a1a" stroke="#1a1a1a" stroke-width="0.12" textLength="99.6" lengthAdjust="spacingAndGlyphs">potential (mV)</text>
<rect x="130.6" y="770.4" width="491.2" height="53.8" fill="#fdf6ab"/>
<rect x="282.1" y="759.3" width="117.1" height="203.9" fill="#c6ebbc" fill-opacity="0.94"/>
<rect x="398.4" y="759.3" width="59.6" height="203.9" fill="#c3bbef" fill-opacity="0.76"/>
<rect x="130.6" y="764.9" width="151.5" height="5.5" fill="#d3d9f1" fill-opacity="0.75"/>
<rect x="130.6" y="770.4" width="151.5" height="5.5" fill="#cfcfc4" fill-opacity="0.34"/>
<path d="M130.6,770.4 H282.1" stroke="#ffffff" stroke-opacity="0.62" stroke-width="11.0" stroke-dasharray="1.15 1.2" stroke-dashoffset="0.00" fill="none"/>
<path d="M130.6,764.9 H282.1" stroke="#cfd3e6" stroke-width="1.8" fill="none"/>
<path d="M130.6,764.9 H282.1" stroke="#878db8" stroke-width="1.8" stroke-dasharray="1.25 1.1" stroke-dashoffset="0.00" fill="none"/>
<path d="M130.6,775.9 H282.1" stroke="#cfd3e6" stroke-width="1.8" fill="none"/>
<path d="M130.6,775.9 H282.1" stroke="#878db8" stroke-width="1.8" stroke-dasharray="1.25 1.1" stroke-dashoffset="0.00" fill="none"/>
<rect x="282.1" y="764.9" width="116.3" height="5.5" fill="#d3d9f1" fill-opacity="0.5"/>
<rect x="282.1" y="770.4" width="116.3" height="5.5" fill="#cfcfc4" fill-opacity="0.3"/>
<path d="M282.1,770.4 H398.4" stroke="#ffffff" stroke-opacity="0.25" stroke-width="11.0" stroke-dasharray="1.15 1.2" stroke-dashoffset="1.10" fill="none"/>
<path d="M282.1,764.9 H398.4" stroke="#cfd3e6" stroke-width="1.8" fill="none"/>
<path d="M282.1,764.9 H398.4" stroke="#878db8" stroke-width="1.8" stroke-dasharray="1.25 1.1" stroke-dashoffset="1.10" fill="none"/>
<path d="M282.1,775.9 H398.4" stroke="#cfd3e6" stroke-width="1.8" fill="none"/>
<path d="M282.1,775.9 H398.4" stroke="#878db8" stroke-width="1.8" stroke-dasharray="1.25 1.1" stroke-dashoffset="1.10" fill="none"/>
<rect x="398.4" y="764.9" width="59.6" height="5.5" fill="#d3d9f1" fill-opacity="0.25"/>
<rect x="398.4" y="770.4" width="59.6" height="5.5" fill="#cfcfc4" fill-opacity="0.2"/>
<path d="M398.4,770.4 H458" stroke="#ffffff" stroke-opacity="0.14" stroke-width="11.0" stroke-dasharray="1.15 1.2" stroke-dashoffset="2.25" fill="none"/>
<path d="M398.4,764.9 H458" stroke="#cfd3e6" stroke-width="1.8" fill="none"/>
<path d="M398.4,764.9 H458" stroke="#7c7fa6" stroke-width="1.8" stroke-dasharray="1.25 1.1" stroke-dashoffset="2.25" fill="none"/>
<path d="M398.4,775.9 H458" stroke="#cfd3e6" stroke-width="1.8" fill="none"/>
<path d="M398.4,775.9 H458" stroke="#7c7fa6" stroke-width="1.8" stroke-dasharray="1.25 1.1" stroke-dashoffset="2.25" fill="none"/>
<rect x="458" y="764.9" width="163.8" height="5.5" fill="#d3d9f1" fill-opacity="0.75"/>
<rect x="458" y="770.4" width="163.8" height="5.5" fill="#cfcfc4" fill-opacity="0.34"/>
<path d="M458,770.4 H621.8" stroke="#ffffff" stroke-opacity="0.62" stroke-width="11.0" stroke-dasharray="1.15 1.2" stroke-dashoffset="0.75" fill="none"/>
<path d="M458,764.9 H621.8" stroke="#cfd3e6" stroke-width="1.8" fill="none"/>
<path d="M458,764.9 H621.8" stroke="#878db8" stroke-width="1.8" stroke-dasharray="1.25 1.1" stroke-dashoffset="0.75" fill="none"/>
<path d="M458,775.9 H621.8" stroke="#cfd3e6" stroke-width="1.8" fill="none"/>
<path d="M458,775.9 H621.8" stroke="#878db8" stroke-width="1.8" stroke-dasharray="1.25 1.1" stroke-dashoffset="0.75" fill="none"/>
<rect x="130.6" y="824.2" width="151.5" height="5.5" fill="#d3d9f1" fill-opacity="0.75"/>
<rect x="130.6" y="818.7" width="151.5" height="5.5" fill="#cfcfc4" fill-opacity="0.34"/>
<path d="M130.6,824.2 H282.1" stroke="#ffffff" stroke-opacity="0.62" stroke-width="11.0" stroke-dasharray="1.15 1.2" stroke-dashoffset="0.00" fill="none"/>
<path d="M130.6,829.7 H282.1" stroke="#cfd3e6" stroke-width="1.8" fill="none"/>
<path d="M130.6,829.7 H282.1" stroke="#878db8" stroke-width="1.8" stroke-dasharray="1.25 1.1" stroke-dashoffset="0.00" fill="none"/>
<path d="M130.6,818.7 H282.1" stroke="#cfd3e6" stroke-width="1.8" fill="none"/>
<path d="M130.6,818.7 H282.1" stroke="#878db8" stroke-width="1.8" stroke-dasharray="1.25 1.1" stroke-dashoffset="0.00" fill="none"/>
<rect x="282.1" y="824.2" width="116.3" height="5.5" fill="#d3d9f1" fill-opacity="0.5"/>
<rect x="282.1" y="818.7" width="116.3" height="5.5" fill="#cfcfc4" fill-opacity="0.3"/>
<path d="M282.1,824.2 H398.4" stroke="#ffffff" stroke-opacity="0.25" stroke-width="11.0" stroke-dasharray="1.15 1.2" stroke-dashoffset="1.10" fill="none"/>
<path d="M282.1,829.7 H398.4" stroke="#cfd3e6" stroke-width="1.8" fill="none"/>
<path d="M282.1,829.7 H398.4" stroke="#878db8" stroke-width="1.8" stroke-dasharray="1.25 1.1" stroke-dashoffset="1.10" fill="none"/>
<path d="M282.1,818.7 H398.4" stroke="#cfd3e6" stroke-width="1.8" fill="none"/>
<path d="M282.1,818.7 H398.4" stroke="#878db8" stroke-width="1.8" stroke-dasharray="1.25 1.1" stroke-dashoffset="1.10" fill="none"/>
<rect x="398.4" y="824.2" width="59.6" height="5.5" fill="#d3d9f1" fill-opacity="0.25"/>
<rect x="398.4" y="818.7" width="59.6" height="5.5" fill="#cfcfc4" fill-opacity="0.2"/>
<path d="M398.4,824.2 H458" stroke="#ffffff" stroke-opacity="0.14" stroke-width="11.0" stroke-dasharray="1.15 1.2" stroke-dashoffset="2.25" fill="none"/>
<path d="M398.4,829.7 H458" stroke="#cfd3e6" stroke-width="1.8" fill="none"/>
<path d="M398.4,829.7 H458" stroke="#7c7fa6" stroke-width="1.8" stroke-dasharray="1.25 1.1" stroke-dashoffset="2.25" fill="none"/>
<path d="M398.4,818.7 H458" stroke="#cfd3e6" stroke-width="1.8" fill="none"/>
<path d="M398.4,818.7 H458" stroke="#7c7fa6" stroke-width="1.8" stroke-dasharray="1.25 1.1" stroke-dashoffset="2.25" fill="none"/>
<rect x="458" y="824.2" width="163.8" height="5.5" fill="#d3d9f1" fill-opacity="0.75"/>
<rect x="458" y="818.7" width="163.8" height="5.5" fill="#cfcfc4" fill-opacity="0.34"/>
<path d="M458,824.2 H621.8" stroke="#ffffff" stroke-opacity="0.62" stroke-width="11.0" stroke-dasharray="1.15 1.2" stroke-dashoffset="0.75" fill="none"/>
<path d="M458,829.7 H621.8" stroke="#cfd3e6" stroke-width="1.8" fill="none"/>
<path d="M458,829.7 H621.8" stroke="#878db8" stroke-width="1.8" stroke-dasharray="1.25 1.1" stroke-dashoffset="0.75" fill="none"/>
<path d="M458,818.7 H621.8" stroke="#cfd3e6" stroke-width="1.8" fill="none"/>
<path d="M458,818.7 H621.8" stroke="#878db8" stroke-width="1.8" stroke-dasharray="1.25 1.1" stroke-dashoffset="0.75" fill="none"/>
<use href="#cc" x="147.75" y="798.0"/>
<use href="#cc" transform="translate(147.75,796.6) scale(1,-1)"/>
<use href="#cc" x="181.2" y="798.0"/>
<use href="#cc" transform="translate(181.2,796.6) scale(1,-1)"/>
<use href="#cc" x="215.0" y="798.0"/>
<use href="#cc" transform="translate(215.0,796.6) scale(1,-1)"/>
<use href="#cc" x="251.3" y="798.0"/>
<use href="#cc" transform="translate(251.3,796.6) scale(1,-1)"/>
<use href="#cc" x="465.2" y="798.0"/>
<use href="#cc" transform="translate(465.2,796.6) scale(1,-1)"/>
<use href="#cc" x="498.5" y="798.0"/>
<use href="#cc" transform="translate(498.5,796.6) scale(1,-1)"/>
<use href="#cc" x="530.0" y="798.0"/>
<use href="#cc" transform="translate(530.0,796.6) scale(1,-1)"/>
<use href="#cc" x="564.2" y="798.0"/>
<use href="#cc" transform="translate(564.2,796.6) scale(1,-1)"/>
<use href="#cc" x="598.6" y="798.0"/>
<use href="#cc" transform="translate(598.6,796.6) scale(1,-1)"/>
<use href="#ci" x="286.8" y="798.0"/>
<use href="#ci" transform="translate(286.8,796.6) scale(1,-1)"/>
<use href="#ci" x="319.2" y="798.0"/>
<use href="#ci" transform="translate(319.2,796.6) scale(1,-1)"/>
<use href="#ci" x="357.2" y="798.0"/>
<use href="#ci" transform="translate(357.2,796.6) scale(1,-1)"/>
<use href="#ci" x="391.8" y="798.0"/>
<use href="#ci" transform="translate(391.8,796.6) scale(1,-1)"/>
<use href="#co" x="426.3" y="798.0"/>
<use href="#co" transform="translate(426.3,796.6) scale(1,-1)"/>
<path d="M160.9,759.2 H167.1 M164.0,756.1 V762.3" stroke="#111" stroke-width="1.3" fill="none"/>
<path d="M162.1,780.3 H165.9" stroke="#111" stroke-width="1.4" fill="none"/>
<path d="M162.1,814.3 H165.9" stroke="#111" stroke-width="1.4" fill="none"/>
<path d="M160.9,835.4 H167.1 M164.0,832.3 V838.5" stroke="#111" stroke-width="1.3" fill="none"/>
<path d="M194.7,759.2 H200.9 M197.8,756.1 V762.3" stroke="#111" stroke-width="1.3" fill="none"/>
<path d="M195.9,780.3 H199.7" stroke="#111" stroke-width="1.4" fill="none"/>
<path d="M195.9,814.3 H199.7" stroke="#111" stroke-width="1.4" fill="none"/>
<path d="M194.7,835.4 H200.9 M197.8,832.3 V838.5" stroke="#111" stroke-width="1.3" fill="none"/>
<path d="M227.1,759.2 H233.3 M230.2,756.1 V762.3" stroke="#111" stroke-width="1.3" fill="none"/>
<path d="M228.3,780.3 H232.1" stroke="#111" stroke-width="1.4" fill="none"/>
<path d="M228.3,814.3 H232.1" stroke="#111" stroke-width="1.4" fill="none"/>
<path d="M227.1,835.4 H233.3 M230.2,832.3 V838.5" stroke="#111" stroke-width="1.3" fill="none"/>
<path d="M264.9,759.2 H271.1 M268.0,756.1 V762.3" stroke="#111" stroke-width="1.3" fill="none"/>
<path d="M266.1,780.3 H269.9" stroke="#111" stroke-width="1.4" fill="none"/>
<path d="M266.1,814.3 H269.9" stroke="#111" stroke-width="1.4" fill="none"/>
<path d="M264.9,835.4 H271.1 M268.0,832.3 V838.5" stroke="#111" stroke-width="1.3" fill="none"/>
<path d="M298.9,759.2 H305.1 M302.0,756.1 V762.3" stroke="#111" stroke-width="1.3" fill="none"/>
<path d="M300.1,780.3 H303.9" stroke="#111" stroke-width="1.4" fill="none"/>
<path d="M300.1,814.3 H303.9" stroke="#111" stroke-width="1.4" fill="none"/>
<path d="M298.9,835.4 H305.1 M302.0,832.3 V838.5" stroke="#111" stroke-width="1.3" fill="none"/>
<path d="M478.8,759.2 H485.0 M481.9,756.1 V762.3" stroke="#111" stroke-width="1.3" fill="none"/>
<path d="M480.0,780.3 H483.8" stroke="#111" stroke-width="1.4" fill="none"/>
<path d="M480.0,814.3 H483.8" stroke="#111" stroke-width="1.4" fill="none"/>
<path d="M478.8,835.4 H485.0 M481.9,832.3 V838.5" stroke="#111" stroke-width="1.3" fill="none"/>
<path d="M543.4,759.2 H549.6 M546.5,756.1 V762.3" stroke="#111" stroke-width="1.3" fill="none"/>
<path d="M544.6,780.3 H548.4" stroke="#111" stroke-width="1.4" fill="none"/>
<path d="M544.6,814.3 H548.4" stroke="#111" stroke-width="1.4" fill="none"/>
<path d="M543.4,835.4 H549.6 M546.5,832.3 V838.5" stroke="#111" stroke-width="1.3" fill="none"/>
<path d="M577.4,759.2 H583.6 M580.5,756.1 V762.3" stroke="#111" stroke-width="1.3" fill="none"/>
<path d="M578.6,780.3 H582.4" stroke="#111" stroke-width="1.4" fill="none"/>
<path d="M578.6,814.3 H582.4" stroke="#111" stroke-width="1.4" fill="none"/>
<path d="M577.4,835.4 H583.6 M580.5,832.3 V838.5" stroke="#111" stroke-width="1.3" fill="none"/>
<path d="M402.1,759.8 H406.1" stroke="#5cb3bd" stroke-width="1.5" fill="none"/>
<path d="M402.1,834.7 H406.1" stroke="#5cb3bd" stroke-width="1.5" fill="none"/>
<path d="M410.5,759.8 H414.5" stroke="#5cb3bd" stroke-width="1.5" fill="none"/>
<path d="M410.5,834.7 H414.5" stroke="#5cb3bd" stroke-width="1.5" fill="none"/>
<path d="M443.9,759.8 H447.9" stroke="#5cb3bd" stroke-width="1.5" fill="none"/>
<path d="M443.9,834.7 H447.9" stroke="#5cb3bd" stroke-width="1.5" fill="none"/>
<path d="M401.6,781.5 H408.2 M404.9,778.2 V784.8" stroke="#c9473f" stroke-width="1.0" fill="none"/>
<path d="M401.6,812.9 H408.2 M404.9,809.6 V816.2" stroke="#c9473f" stroke-width="1.0" fill="none"/>
<path d="M408.7,781.5 H415.3 M412.0,778.2 V784.8" stroke="#c9473f" stroke-width="1.0" fill="none"/>
<path d="M408.7,812.9 H415.3 M412.0,809.6 V816.2" stroke="#c9473f" stroke-width="1.0" fill="none"/>
<path d="M442.6,781.5 H449.2 M445.9,778.2 V784.8" stroke="#c9473f" stroke-width="1.0" fill="none"/>
<path d="M442.6,812.9 H449.2 M445.9,809.6 V816.2" stroke="#c9473f" stroke-width="1.0" fill="none"/>
<path d="M402.5,750.8 C418.5,750.8 427.5,759.8 427.5,772.1 C427.5,784.5 418.5,793.5 402.5,793.5 L361.9,793.5 C348.9,793.5 338.9,783.9 338.9,772.1 C338.9,760.4 348.9,750.8 361.9,750.8 Z" fill="none" stroke="#d81b60" stroke-width="1.1"/>
<path d="M450.1,750.8 C434.1,750.8 425.1,759.8 425.1,772.1 C425.1,784.5 434.1,793.5 450.1,793.5 L490.9,793.5 C503.9,793.5 513.9,783.9 513.9,772.1 C513.9,760.4 503.9,750.8 490.9,750.8 Z" fill="none" stroke="#d81b60" stroke-width="1.1"/>
<path d="M402.5,803.6 C418.5,803.6 427.5,812.8 427.5,825.4 C427.5,838.1 418.5,847.3 402.5,847.3 L361.9,847.3 C348.9,847.3 338.9,837.5 338.9,825.4 C338.9,813.4 348.9,803.6 361.9,803.6 Z" fill="none" stroke="#d81b60" stroke-width="1.1"/>
<path d="M450.1,803.6 C434.1,803.6 425.1,812.8 425.1,825.4 C425.1,838.1 434.1,847.3 450.1,847.3 L490.9,847.3 C503.9,847.3 513.9,837.5 513.9,825.4 C513.9,813.4 503.9,803.6 490.9,803.6 Z" fill="none" stroke="#d81b60" stroke-width="1.1"/>
<path d="M375.3,745.2 L382.1,750.8 L375.3,756.4" fill="none" stroke="#d81b60" stroke-width="1.1" stroke-linecap="round" stroke-linejoin="miter"/>
<path d="M389.9,787.9 L383.1,793.5 L389.9,799.1" fill="none" stroke="#d81b60" stroke-width="1.1" stroke-linecap="round" stroke-linejoin="miter"/>
<path d="M478.7,745.2 L471.9,750.8 L478.7,756.4" fill="none" stroke="#d81b60" stroke-width="1.1" stroke-linecap="round" stroke-linejoin="miter"/>
<path d="M469.7,787.9 L476.5,793.5 L469.7,799.1" fill="none" stroke="#d81b60" stroke-width="1.1" stroke-linecap="round" stroke-linejoin="miter"/>
<path d="M383.3,798.0 L376.5,803.6 L383.3,809.2" fill="none" stroke="#d81b60" stroke-width="1.1" stroke-linecap="round" stroke-linejoin="miter"/>
<path d="M375.3,841.7 L382.1,847.3 L375.3,852.9" fill="none" stroke="#d81b60" stroke-width="1.1" stroke-linecap="round" stroke-linejoin="miter"/>
<path d="M462.3,798.0 L469.1,803.6 L462.3,809.2" fill="none" stroke="#d81b60" stroke-width="1.1" stroke-linecap="round" stroke-linejoin="miter"/>
<path d="M478.5,841.7 L471.7,847.3 L478.5,852.9" fill="none" stroke="#d81b60" stroke-width="1.1" stroke-linecap="round" stroke-linejoin="miter"/>
<path d="M426.3,722.8 V750.8" stroke="#111" stroke-width="1.2" fill="none"/>
<path d="M422.5,747.2 H430.1 L426.3,753.6 Z" fill="#111"/>
<text x="426.3" y="719.8" font-size="13.8" text-anchor="middle" fill="#8b62b5" stroke="#8b62b5" textLength="27.9" lengthAdjust="spacingAndGlyphs">open</text>
<path d="M129.6,946.6 C156.1,946.9 182.5,947.3 209.0,947.5 C229.3,947.6 249.7,947.5 270.0,947.5 C273.7,947.5 277.4,947.3 281.0,947.6 C283.8,947.8 286.6,948.1 289.2,948.9 C291.2,949.5 293.1,950.8 295.0,951.8 C297.1,952.9 299.0,954.3 301.1,955.3 C303.3,956.3 305.6,957.3 308.0,957.9 C310.6,958.5 313.3,958.7 316.0,958.8 C318.0,958.9 320.0,958.7 322.0,958.4 C324.0,958.1 326.0,957.8 327.8,957.0 C330.7,955.8 333.4,954.1 336.0,952.4 C339.3,950.2 342.5,947.8 345.6,945.2 C353.7,938.4 361.5,931.3 369.4,924.4 C377.3,917.5 385.2,910.4 393.2,903.6 C399.1,898.6 404.9,893.5 411.0,888.8 C413.5,886.9 416.2,885.2 419.0,883.8 C421.0,882.8 423.2,882.0 425.3,881.7 C427.2,881.5 429.2,881.7 431.0,882.2 C432.8,882.8 434.6,883.8 436.0,885.0 C437.9,886.6 439.6,888.7 441.0,890.8 C442.9,893.7 444.5,896.8 446.0,900.0 C448.0,904.2 449.7,908.6 451.5,913.0 C453.4,917.6 455.1,922.3 457.0,927.0 C458.3,930.2 459.5,933.5 461.0,936.6 C461.9,938.5 463.1,940.4 464.4,942.0 C465.4,943.2 466.6,944.5 468.0,945.2 C469.6,946.0 471.5,946.3 473.3,946.6 C477.2,947.1 481.1,947.4 485.0,947.6 C490.0,947.9 495.0,947.9 500.0,948.0 C520.0,948.3 540.0,948.5 560.0,948.7 C583.3,948.9 606.7,948.9 630.0,949.0" fill="none" stroke="#d81b60" stroke-width="3.6" stroke-linecap="butt" stroke-linejoin="round"/>
<path d="M128.8,873.7 V963.2 H627" fill="none" stroke="#111" stroke-width="1.9" stroke-linejoin="miter"/>
<path d="M122.9,882.3 H134.8" stroke="#111" stroke-width="1.7"/>
<path d="M122.9,908.5 H134.8" stroke="#111" stroke-width="1.7"/>
<path d="M122.9,934.7 H134.8" stroke="#111" stroke-width="1.7"/>
<path d="M122.9,952.0 H134.8" stroke="#111" stroke-width="1.7"/>
<path d="M205.6,958.5 V969.6" stroke="#111" stroke-width="1.8"/>
<text x="205.6" y="983.7" font-size="15.3" text-anchor="middle" fill="#1a1a1a" stroke="#1a1a1a" stroke-width="0.12" textLength="7.82" lengthAdjust="spacingAndGlyphs">1</text>
<path d="M281.7,958.5 V969.6" stroke="#111" stroke-width="1.8"/>
<text x="281.7" y="983.7" font-size="15.3" text-anchor="middle" fill="#1a1a1a" stroke="#1a1a1a" stroke-width="0.12" textLength="7.82" lengthAdjust="spacingAndGlyphs">2</text>
<path d="M358.6,958.5 V969.6" stroke="#111" stroke-width="1.8"/>
<text x="358.6" y="983.7" font-size="15.3" text-anchor="middle" fill="#1a1a1a" stroke="#1a1a1a" stroke-width="0.12" textLength="7.82" lengthAdjust="spacingAndGlyphs">3</text>
<path d="M433.8,958.5 V969.6" stroke="#111" stroke-width="1.8"/>
<text x="433.8" y="983.7" font-size="15.3" text-anchor="middle" fill="#1a1a1a" stroke="#1a1a1a" stroke-width="0.12" textLength="7.82" lengthAdjust="spacingAndGlyphs">4</text>
<path d="M509.2,958.5 V969.6" stroke="#111" stroke-width="1.8"/>
<text x="509.2" y="983.7" font-size="15.3" text-anchor="middle" fill="#1a1a1a" stroke="#1a1a1a" stroke-width="0.12" textLength="7.82" lengthAdjust="spacingAndGlyphs">5</text>
<path d="M585.2,958.5 V969.6" stroke="#111" stroke-width="1.8"/>
<text x="585.2" y="983.7" font-size="15.3" text-anchor="middle" fill="#1a1a1a" stroke="#1a1a1a" stroke-width="0.12" textLength="7.82" lengthAdjust="spacingAndGlyphs">6</text>
<text x="128.6" y="978.8" font-size="15.3" text-anchor="middle" fill="#1a1a1a" stroke="#1a1a1a" stroke-width="0.12" textLength="7.82" lengthAdjust="spacingAndGlyphs">0</text>
<text x="120.51" y="887.8" font-size="15.3" text-anchor="end" fill="#1a1a1a" stroke="#1a1a1a" stroke-width="0.12" textLength="15.82" lengthAdjust="spacingAndGlyphs">50</text>
<text x="120.51" y="914.0" font-size="15.3" text-anchor="end" fill="#1a1a1a" stroke="#1a1a1a" stroke-width="0.12" textLength="7.82" lengthAdjust="spacingAndGlyphs">0</text>
<text x="120.51" y="940.2" font-size="15.3" text-anchor="end" fill="#1a1a1a" stroke="#1a1a1a" stroke-width="0.12" textLength="20.82" lengthAdjust="spacingAndGlyphs">-50</text>
<text x="270.43" y="1003.0" font-size="16.8" text-anchor="start" fill="#1a1a1a" stroke="#1a1a1a" stroke-width="0.12" textLength="184.54" lengthAdjust="spacingAndGlyphs">distance along axon (mm)</text>
<text transform="translate(70.5,962.1) rotate(-90)" font-size="16.8" fill="#1a1a1a" stroke="#1a1a1a" stroke-width="0.12" textLength="75.6" lengthAdjust="spacingAndGlyphs">membrane</text>
<text transform="translate(89.1,962.1) rotate(-90)" font-size="16.8" fill="#1a1a1a" stroke="#1a1a1a" stroke-width="0.12" textLength="99.6" lengthAdjust="spacingAndGlyphs">potential (mV)</text>
<text x="19.9" y="37.8" font-size="13.4" fill="#1a1a1a" stroke="#1a1a1a"><tspan textLength="67.7" lengthAdjust="spacingAndGlyphs">Status of Na</tspan><tspan x="87.6" dy="-3.8" font-size="8.2">+</tspan></text>
<text x="19.86" y="51.0" font-size="13.4" text-anchor="start" fill="#1a1a1a" stroke="#1a1a1a" textLength="52.67" lengthAdjust="spacingAndGlyphs">channels:</text>
<text x="521.6" y="17.2" font-size="11.5" text-anchor="middle" fill="#1a1a1a" stroke="#1a1a1a" textLength="187.32" lengthAdjust="spacingAndGlyphs">Created by Alexa Crookston with Adobe</text>
<text x="521.6" y="29.6" font-size="11.5" text-anchor="middle" fill="#1a1a1a" stroke="#1a1a1a" textLength="207.42" lengthAdjust="spacingAndGlyphs">Illustrator and BioRender.com CC BY-NC-ND</text>
<text x="26.2" y="155.1" font-size="17.4" text-anchor="start" fill="#4a9fa8" stroke="#4a9fa8" stroke-width="0.12" textLength="51.79" lengthAdjust="spacingAndGlyphs">Time: 0</text>
<text x="25.7" y="491.6" font-size="17.4" text-anchor="start" fill="#4a9fa8" stroke="#4a9fa8" stroke-width="0.12" textLength="74.59" lengthAdjust="spacingAndGlyphs">Time: 1ms</text>
<text x="25.7" y="832.1" font-size="17.4" text-anchor="start" fill="#4a9fa8" stroke="#4a9fa8" stroke-width="0.12" textLength="74.59" lengthAdjust="spacingAndGlyphs">Time: 2ms</text>
<text x="100.25" y="126.9" font-size="13.8" text-anchor="start" fill="#1a1a1a" stroke="#1a1a1a" textLength="27.5" lengthAdjust="spacingAndGlyphs">axon</text>
<text x="192" y="51.2" font-size="13.8" text-anchor="middle" fill="#6a9a58" stroke="#6a9a58" textLength="61.1" lengthAdjust="spacingAndGlyphs">closed and</text>
<text x="192" y="64.5" font-size="13.8" text-anchor="middle" fill="#6a9a58" stroke="#6a9a58" textLength="61.1" lengthAdjust="spacingAndGlyphs">inactivated</text>
<text x="473.5" y="60" font-size="13.8" text-anchor="middle" fill="#b8864b" stroke="#b8864b" textLength="37.0" lengthAdjust="spacingAndGlyphs">closed</text>
<text x="379.55" y="193.6" font-size="13.8" text-anchor="start" fill="#1a1a1a" stroke="#1a1a1a" textLength="83.5" lengthAdjust="spacingAndGlyphs">passive spread</text>
<path d="M359.6,167.4 L379.3,186.6" stroke="#444" stroke-width="0.8"/>
<text x="191.8" y="209.7" font-size="13.2" text-anchor="middle" fill="#1a1a1a" stroke="#1a1a1a" textLength="53.96" lengthAdjust="spacingAndGlyphs">refractory</text>
<text x="191.8" y="223.0" font-size="13.2" text-anchor="middle" fill="#1a1a1a" stroke="#1a1a1a" textLength="35.86" lengthAdjust="spacingAndGlyphs">period</text>
<text x="310.15" y="233.5" font-size="13.8" text-anchor="start" fill="#1a1a1a" stroke="#1a1a1a" textLength="78.4" lengthAdjust="spacingAndGlyphs">depolarization</text>
<text x="168.4" y="399.4" font-size="13.8" text-anchor="middle" fill="#b8864b" stroke="#b8864b" textLength="37.0" lengthAdjust="spacingAndGlyphs">closed</text>
<text x="261.2" y="386.3" font-size="13.8" text-anchor="middle" fill="#6a9a58" stroke="#6a9a58" textLength="61.1" lengthAdjust="spacingAndGlyphs">closed and</text>
<text x="261.2" y="400.1" font-size="13.8" text-anchor="middle" fill="#6a9a58" stroke="#6a9a58" textLength="61.1" lengthAdjust="spacingAndGlyphs">inactivated</text>
<text x="503.8" y="399.2" font-size="13.8" text-anchor="middle" fill="#b8864b" stroke="#b8864b" textLength="37.0" lengthAdjust="spacingAndGlyphs">closed</text>
<text x="173.47" y="574.7" font-size="13.2" text-anchor="start" fill="#1a1a1a" stroke="#1a1a1a" textLength="96.06" lengthAdjust="spacingAndGlyphs">hyperpolarization</text>
<path d="M220.8,577.5 L242.8,618.8" stroke="#444" stroke-width="0.8"/>
<text x="213.4" y="738.9" font-size="13.8" text-anchor="middle" fill="#b8864b" stroke="#b8864b" textLength="37.0" lengthAdjust="spacingAndGlyphs">closed</text>
<text x="334.1" y="726.3" font-size="13.8" text-anchor="middle" fill="#6a9a58" stroke="#6a9a58" textLength="61.1" lengthAdjust="spacingAndGlyphs">closed and</text>
<text x="334.1" y="740.0" font-size="13.8" text-anchor="middle" fill="#6a9a58" stroke="#6a9a58" textLength="61.1" lengthAdjust="spacingAndGlyphs">inactivated</text>
<text x="540.8" y="738.9" font-size="13.8" text-anchor="middle" fill="#b8864b" stroke="#b8864b" textLength="37.0" lengthAdjust="spacingAndGlyphs">closed</text>
<text x="161.07" y="919.6" font-size="13.2" text-anchor="start" fill="#1a1a1a" stroke="#1a1a1a" textLength="91.26" lengthAdjust="spacingAndGlyphs">resting potential</text>
<path d="M201.4,924.4 L212,945" stroke="#444" stroke-width="0.8"/>
</svg>
</body>
</html>
